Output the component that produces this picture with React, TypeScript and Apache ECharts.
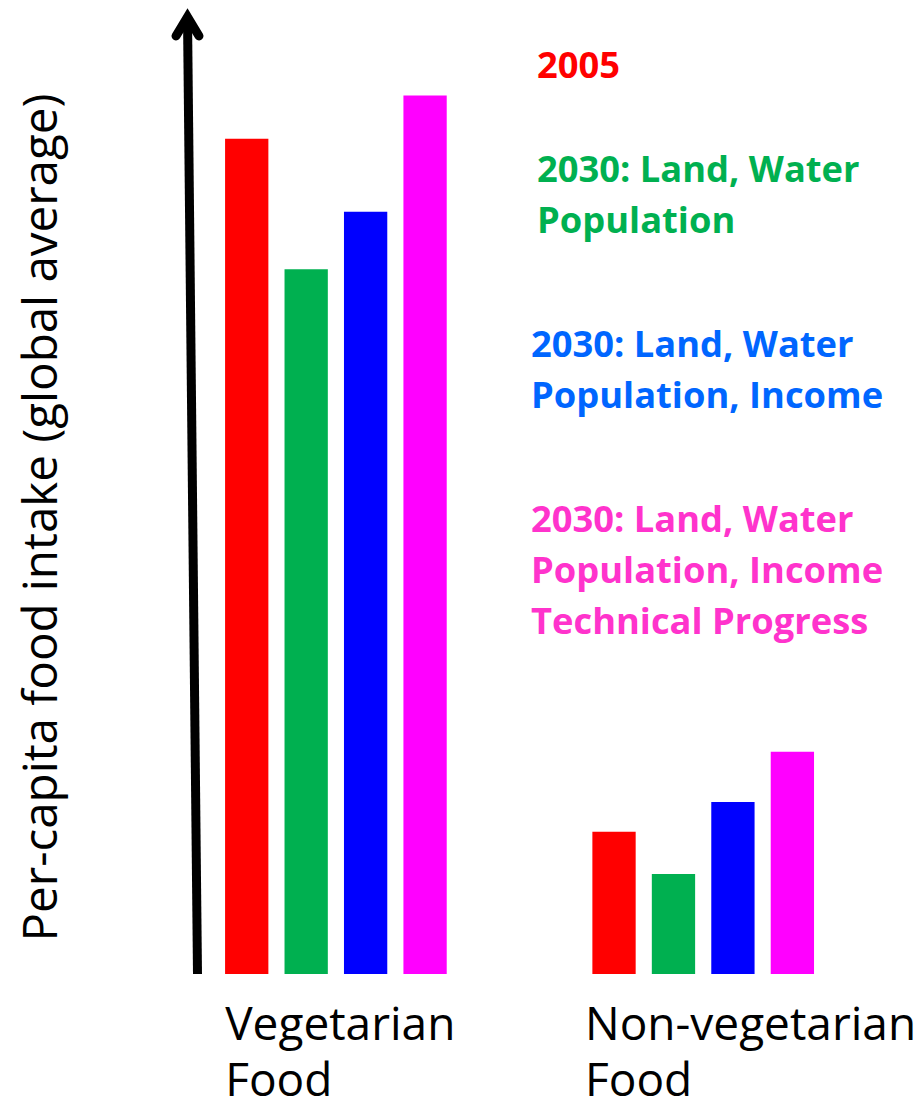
import React, { useEffect, useRef } from "react";
import * as echarts from "echarts";

// ---- data ----
const categories = ["Vegetarian\nFood", "Non-vegetarian\nFood"];
const seriesNames = [
  "2005",
  "2030: Land, Water\nPopulation",
  "2030: Land, Water\nPopulation, Income",
  "2030: Land, Water\nPopulation, Income\nTechnical Progress",
];
const values2005 = [92.8, 15.8];
const valuesLandWater = [78.3, 11.1];
const valuesIncome = [84.7, 19.1];
const valuesTech = [97.6, 24.7];
const yAxisTitle = "Per-capita food intake (global average)";

// ---- styles ----
const barColors = ["#ff0000", "#00b050", "#0000ff", "#ff00ff"];
const textColors = ["#ff0000", "#00b050", "#0066ff", "#ff33cc"];
const FONT = "'Open Sans', 'DejaVu Sans', sans-serif";

export default function App() {
  const ref = useRef<HTMLDivElement>(null);

  useEffect(() => {
    document.body.style.margin = "0";
    if (!ref.current) return;
    const chart = echarts.init(ref.current, null, { renderer: "svg" });
    const seriesData = [values2005, valuesLandWater, valuesIncome, valuesTech];

    const legendLeft = [532, 532, 526, 526];
    const legendTop = [38, 142, 317, 492];

    const option: any = {
      animation: false,
      backgroundColor: "#ffffff",
      grid: { left: 152.25, right: 37.15, top: 74, bottom: 136 },
      legend: seriesNames.map((name, i) => ({
        data: [name],
        left: legendLeft[i],
        top: legendTop[i],
        orient: "vertical",
        icon: "none",
        itemWidth: 0,
        itemHeight: 0,
        padding: 0,
        selectedMode: false,
        textStyle: {
          color: textColors[i],
          fontSize: 36.3,
          fontWeight: "bold",
          fontFamily: FONT,
          lineHeight: 51,
        },
      })),
      xAxis: {
        type: "category",
        data: categories,
        axisLine: { show: false },
        axisTick: { show: false },
        axisLabel: {
          interval: 0,
          margin: 19.5,
          formatter: (value: string, idx: number) => {
            const key = idx === 0 ? "a" : "b";
            return value
              .split("\n")
              .map((s) => `{${key}|${s}}`)
              .join("\n");
          },
          rich: {
            a: { width: 221.5, align: "left", fontSize: 46, lineHeight: 56, fontFamily: FONT, color: "#000" },
            b: { width: 236.4, align: "left", fontSize: 46, lineHeight: 56, fontFamily: FONT, color: "#000" },
          },
        },
      },
      yAxis: {
        type: "value",
        min: 0,
        max: 100,
        show: false,
        splitLine: { show: false },
      },
      series: seriesNames.map((name, i) => ({
        name,
        type: "bar",
        data: seriesData[i],
        barWidth: 43.3,
        barGap: "37.3%",
        itemStyle: { color: barColors[i] },
      })),
      graphic: [
        {
          type: "line",
          shape: { x1: 197.5, y1: 974, x2: 187.5, y2: 17 },
          style: { stroke: "#000", lineWidth: 9, lineCap: "butt" },
          z: 10,
        },
        {
          type: "polyline",
          shape: { points: [[176, 36], [187.5, 17], [199, 36]] },
          style: { stroke: "#000", lineWidth: 9, lineCap: "round", lineJoin: "miter", fill: null },
          z: 10,
        },
        {
          type: "text",
          x: 38,
          y: 517.5,
          rotation: Math.PI / 2,
          style: {
            text: yAxisTitle,
            fontSize: 47.5,
            fontFamily: FONT,
            fill: "#000",
            align: "center",
            verticalAlign: "middle",
            textAlign: "center",
            textVerticalAlign: "middle",
          },
        },
      ],
    };

    chart.setOption(option);
    return () => chart.dispose();
  }, []);

  return <div ref={ref} style={{ width: 924, height: 1110 }} />;
}
